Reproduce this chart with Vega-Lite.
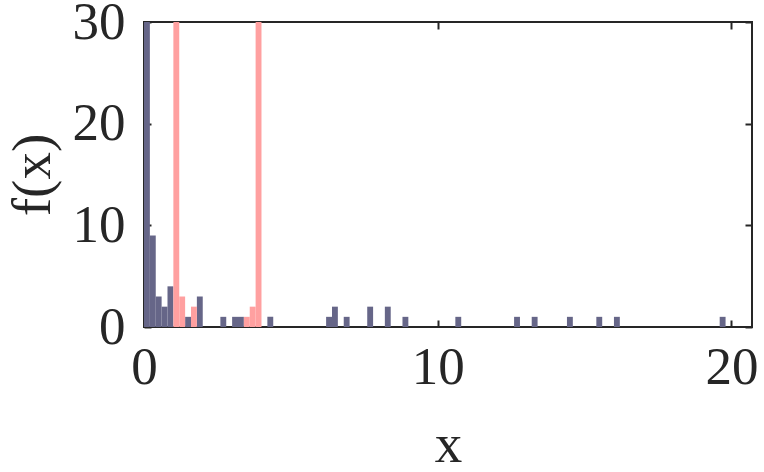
{
  "$schema": "https://vega.github.io/schema/vega-lite/v6.json",
  "width": 608,
  "height": 305,
  "autosize": {"type": "none"},
  "padding": {"left": 144, "top": 22, "right": 12, "bottom": 145},
  "background": "white",
  "config": {
    "view": {"stroke": "#262626", "strokeWidth": 2},
    "font": "Liberation Serif",
    "axis": {
      "domain": false,
      "grid": false,
      "tickColor": "#262626",
      "tickWidth": 2,
      "labelFont": "Liberation Serif",
      "titleFont": "Liberation Serif",
      "labelColor": "#262626",
      "titleColor": "#262626",
      "labelFontSize": 53,
      "titleFontSize": 55,
      "titleFontWeight": "normal"
    }
  },
  "datasets": {
    "dark": [
      {"start": 0.0, "end": 0.2, "count": 45},
      {"start": 0.2, "end": 0.4, "count": 9},
      {"start": 0.4, "end": 0.6, "count": 3},
      {"start": 0.6, "end": 0.8, "count": 2},
      {"start": 0.8, "end": 1.0, "count": 4},
      {"start": 1.4, "end": 1.6, "count": 1},
      {"start": 1.8, "end": 2.0, "count": 3},
      {"start": 2.6, "end": 2.8, "count": 1},
      {"start": 3.0, "end": 3.2, "count": 1},
      {"start": 3.2, "end": 3.4, "count": 1},
      {"start": 4.2, "end": 4.4, "count": 1},
      {"start": 6.2, "end": 6.4, "count": 1},
      {"start": 6.4, "end": 6.6, "count": 2},
      {"start": 6.8, "end": 7.0, "count": 1},
      {"start": 7.6, "end": 7.8, "count": 2},
      {"start": 8.2, "end": 8.4, "count": 2},
      {"start": 8.8, "end": 9.0, "count": 1},
      {"start": 10.6, "end": 10.8, "count": 1},
      {"start": 12.6, "end": 12.8, "count": 1},
      {"start": 13.2, "end": 13.4, "count": 1},
      {"start": 14.4, "end": 14.6, "count": 1},
      {"start": 15.4, "end": 15.6, "count": 1},
      {"start": 16.0, "end": 16.2, "count": 1},
      {"start": 19.6, "end": 19.8, "count": 1}
    ],
    "pink": [
      {"start": 1.0, "end": 1.2, "count": 45},
      {"start": 1.2, "end": 1.4, "count": 3},
      {"start": 1.6, "end": 1.8, "count": 2},
      {"start": 3.4, "end": 3.6, "count": 1},
      {"start": 3.6, "end": 3.8, "count": 2},
      {"start": 3.8, "end": 4.0, "count": 45}
    ]
  },
  "layer": [
    {
      "data": {"name": "dark"},
      "mark": {"type": "rect", "color": "#666688", "clip": true},
      "encoding": {
        "x": {"field": "start", "type": "quantitative",
              "scale": {"domain": [0, 20.7], "nice": false, "zero": false},
              "axis": {"orient": "bottom", "values": [0, 10, 20], "tickSize": -7, "labelPadding": 21, "title": "x", "titlePadding": 24, "labelFlush": false}},
        "x2": {"field": "end"},
        "y": {"field": "count", "type": "quantitative",
              "scale": {"domain": [0, 30], "nice": false},
              "axis": {"orient": "left", "values": [0, 10, 20, 30], "tickSize": -7, "labelPadding": 26, "title": "f(x)", "titlePadding": 11, "labelFlush": false}},
        "y2": {"datum": 0}
      }
    },
    {
      "data": {"name": "pink"},
      "mark": {"type": "rect", "color": "#ffa0a0", "clip": true},
      "encoding": {
        "x": {"field": "start", "type": "quantitative",
              "axis": {"orient": "top", "values": [0, 10, 20], "tickSize": -7, "labels": false, "title": null}},
        "x2": {"field": "end"},
        "y": {"field": "count", "type": "quantitative",
              "axis": {"orient": "right", "values": [0, 10, 20, 30], "tickSize": -7, "labels": false, "title": null}},
        "y2": {"datum": 0}
      }
    }
  ],
  "resolve": {"axis": {"x": "independent", "y": "independent"}}
}
